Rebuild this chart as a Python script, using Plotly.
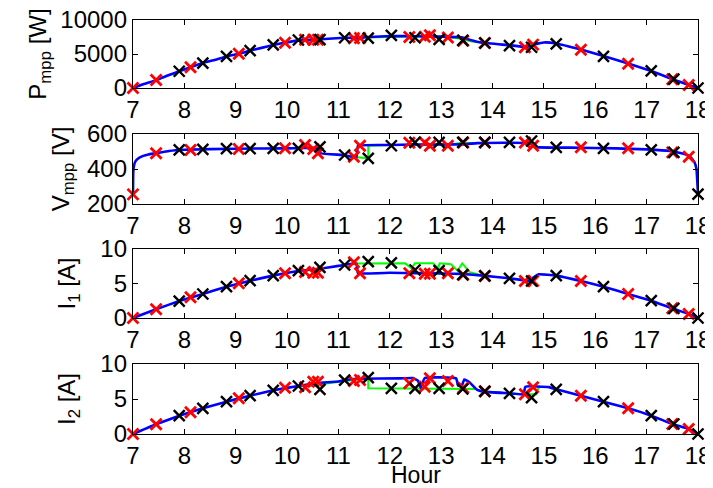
import plotly.graph_objects as go

# ---------------- data ----------------
# Blue line (system A)
blue_h_P = [7.0, 7.2, 7.45, 7.7, 7.9, 8.12, 8.36, 8.6, 8.82, 9.06, 9.28, 9.5, 9.73, 9.96, 10.22, 10.5, 10.8, 11.12, 11.4, 11.6, 12.03, 12.5, 13.0, 13.4, 13.55, 13.8, 14.33, 14.7, 14.8, 15.0, 15.24, 15.72, 16.16, 16.64, 17.09, 17.5, 17.82, 18.0]
blue_P = [0, 550, 1160, 1900, 2460, 3040, 3670, 4150, 4640, 5030, 5500, 5900, 6330, 6670, 7000, 7100, 7250, 7390, 7400, 7500, 7650, 7600, 7550, 7450, 7100, 6650, 6300, 6000, 6400, 6700, 6550, 5650, 4700, 3600, 2500, 1300, 450, 0]

green_h_P = [11.4, 12.5, 13.0, 13.3, 13.45, 13.6, 13.8]
green_P = [7400, 7600, 7550, 7350, 7100, 6850, 6650]

blue_h_V = [7.0, 7.005, 7.02, 7.05, 7.1, 7.2, 7.3, 7.45, 7.7, 8.0, 9.0, 10.0, 10.3, 10.6, 10.65, 11.1, 11.35, 11.38, 12.0, 12.5, 13.0, 13.5, 13.7, 14.7, 14.85, 15.5, 16.4, 17.0, 17.45, 17.7, 17.85, 17.93, 17.97, 18.0]
blue_V = [255, 380, 420, 445, 460, 475, 483, 490, 503, 510, 516, 518, 520, 520, 490, 480, 467, 533, 537, 540, 540, 542, 548, 548, 525, 522, 518, 512, 503, 488, 470, 440, 400, 257]

green_h_V = [11.35, 11.58, 11.58, 12.0, 13.2, 13.35, 13.6, 13.7]
green_V = [467, 461, 533, 537, 540, 548, 548, 548]

blue_h_I1 = [7.0, 7.45, 7.9, 8.36, 8.82, 9.28, 9.73, 10.22, 10.6, 11.0, 11.35, 11.38, 12.0, 12.5, 13.0, 13.4, 13.82, 14.33, 14.72, 14.8, 14.9, 15.24, 15.72, 16.16, 16.64, 17.09, 17.5, 17.82, 18.0]
blue_I1 = [0, 1.26, 2.46, 3.48, 4.54, 5.41, 6.14, 6.8, 7.1, 7.55, 7.9, 6.5, 6.55, 6.5, 6.45, 6.4, 6.14, 5.75, 5.4, 5.9, 6.33, 6.14, 5.36, 4.54, 3.48, 2.51, 1.4, 0.58, 0]

green_h_I1 = [11.35, 11.6, 12.3, 12.42, 12.49, 12.84, 12.94, 12.97, 13.19, 13.32, 13.41, 13.56, 13.75, 13.82]
green_I1 = [7.9, 7.92, 7.92, 7.2, 7.92, 7.92, 7.2, 7.92, 7.8, 6.86, 7.92, 6.62, 6.33, 6.14]

blue_h_I2 = [7.0, 7.45, 7.9, 8.36, 8.82, 9.28, 9.73, 10.22, 10.4, 10.6, 11.0, 11.12, 11.4, 12.2, 12.45, 12.55, 12.6, 12.68, 13.29, 13.33, 13.4, 13.45, 13.55, 13.7, 13.82, 14.33, 14.6, 14.64, 15.1, 15.24, 15.72, 16.16, 16.64, 17.09, 17.5, 17.82, 18.0]
blue_I2 = [0, 1.39, 2.62, 3.67, 4.62, 5.48, 6.24, 6.86, 7.05, 7.3, 7.5, 7.71, 7.9, 7.95, 8.0, 7.6, 6.6, 8.0, 7.95, 6.9, 6.9, 7.8, 7.4, 6.3, 6.05, 5.81, 5.67, 6.76, 6.7, 6.38, 5.48, 4.62, 3.67, 2.62, 1.43, 0.71, 0]

green_h_I2 = [10.35, 10.5, 10.65, 11.4, 11.58, 11.58, 13.68, 13.82, 14.33, 14.6, 14.85, 14.9]
green_I2 = [6.9, 6.85, 7.1, 7.9, 8.0, 6.52, 6.43, 6.05, 5.81, 5.67, 5.67, 6.7]

# Red markers
red_h = [7.0, 7.45, 8.12, 9.06, 9.96, 10.35, 10.51, 10.6, 11.3, 11.42, 12.38, 12.68, 12.78, 13.13, 13.43, 13.85, 14.63, 14.79, 15.72, 16.64, 17.5, 17.82]
red_P = [0, 1160, 3040, 5030, 6670, 7100, 7100, 7100, 7300, 7350, 7500, 7550, 7760, 7440, 6960, 6620, 6000, 6380, 5610, 3580, 1300, 430]
red_V = [255, 490, 509, 514, 518, 537, 514, 490, 470, 533, 550, 552, 533, 533, 552, 552, 552, 533, 524, 518, 495, 470]
red_I1 = [0, 1.26, 3.0, 5.02, 6.47, 6.67, 6.57, 6.57, 8.07, 6.47, 6.47, 6.42, 6.42, 6.47, 6.28, 6.1, 5.36, 5.36, 5.36, 3.48, 1.4, 0.58]
red_I2 = [0, 1.39, 3.1, 5.1, 6.62, 6.67, 7.48, 7.48, 7.57, 7.71, 7.24, 6.76, 7.95, 7.57, 6.62, 6.1, 5.67, 6.67, 5.48, 3.67, 1.43, 0.71]

# Black markers
black_h = [7.9, 8.36, 8.82, 9.28, 9.73, 10.22, 10.64, 11.12, 11.58, 12.03, 12.49, 12.96, 13.42, 13.85, 14.33, 14.76, 15.24, 16.16, 17.09, 17.53, 18.0]
black_P = [2460, 3670, 4640, 5500, 6330, 7060, 7100, 7390, 7340, 7730, 7390, 7150, 7000, 6620, 6230, 5990, 6480, 4640, 2510, 1300, 0]
black_V = [509, 512, 516, 516, 518, 518, 527, 480, 461, 533, 552, 552, 552, 552, 552, 560, 524, 518, 509, 495, 257]
black_I1 = [2.46, 3.48, 4.54, 5.41, 6.14, 6.86, 7.34, 7.68, 8.16, 8.0, 6.96, 6.86, 6.3, 6.1, 5.75, 5.36, 6.14, 4.54, 2.51, 1.4, 0]
black_I2 = [2.62, 3.67, 4.62, 5.48, 6.24, 6.86, 6.38, 7.71, 8.05, 6.52, 6.52, 6.52, 6.43, 6.1, 5.81, 5.19, 6.38, 4.62, 2.62, 1.43, 0]

x_ticks = list(range(7, 19))
y_titles = ["P<sub>mpp</sub> [W]", "V<sub>mpp</sub> [V]", "I<sub>1</sub> [A]", "I<sub>2</sub> [A]"]
y_ranges = [[0, 10000], [200, 600], [0, 10], [0, 10]]
y_tickvals = [[0, 5000, 10000], [200, 400, 600], [0, 5, 10], [0, 5, 10]]
x_title = "Hour"

# ---------------- figure ----------------
# The page has an 8px body margin, so the figure's origin sits at (8, 8) in the window.
OFF = 8
W, H = 705, 480
x_dom = [(133 - OFF) / W, (698 - OFF) / W]
y_px = [(20, 88), (134, 204), (249, 318), (364, 434)]
standoffs = [6, 10, 17, 17]

panels = [
    (blue_h_P, blue_P, green_h_P, green_P, red_P, black_P),
    (blue_h_V, blue_V, green_h_V, green_V, red_V, black_V),
    (blue_h_I1, blue_I1, green_h_I1, green_I1, red_I1, black_I1),
    (blue_h_I2, blue_I2, green_h_I2, green_I2, red_I2, black_I2),
]

fig = go.Figure()
font = "Liberation Sans, Arial, sans-serif"
mk = dict(symbol="x-thin", size=11)

for i, (bh, bv, gh, gv, rv, kv) in enumerate(panels):
    n = "" if i == 0 else str(i + 1)
    xa, ya = "x" + n, "y" + n
    fig.add_trace(go.Scatter(x=gh, y=gv, mode="lines", line=dict(color="#00ff00", width=2),
                             xaxis=xa, yaxis=ya, showlegend=False))
    fig.add_trace(go.Scatter(x=bh, y=bv, mode="lines", line=dict(color="#0000ff", width=2.6, shape="spline", smoothing=0.3),
                             xaxis=xa, yaxis=ya, showlegend=False))
    fig.add_trace(go.Scatter(x=red_h, y=rv, mode="markers", cliponaxis=False,
                             marker=dict(mk, color="#ff0000", line=dict(width=2.8, color="#ff0000")),
                             xaxis=xa, yaxis=ya, showlegend=False))
    fig.add_trace(go.Scatter(x=black_h, y=kv, mode="markers", cliponaxis=False,
                             marker=dict(mk, color="#000000", line=dict(width=2.4, color="#000000")),
                             xaxis=xa, yaxis=ya, showlegend=False))
    top, bot = y_px[i]
    axis_common = dict(showline=True, linecolor="black", linewidth=1.3, mirror="ticks",
                       ticks="inside", ticklen=5, tickcolor="black", tickwidth=1,
                       showgrid=False, zeroline=False, automargin=False,
                       ticklabeloverflow="allow",
                       tickfont=dict(family=font, size=24, color="black"))
    fig.layout["xaxis" + n] = dict(axis_common, domain=x_dom, range=[7, 18], anchor=ya,
                                   tickvals=x_ticks, ticktext=[str(t) for t in x_ticks])
    fig.layout["yaxis" + n] = dict(axis_common,
                                   domain=[1 - (bot - OFF) / H, 1 - (top - OFF) / H], range=y_ranges[i],
                                   anchor=xa, tickvals=y_tickvals[i],
                                   ticktext=[str(v) for v in y_tickvals[i]],
                                   title=dict(text=y_titles[i], font=dict(family=font, size=24, color="black"),
                                              standoff=standoffs[i]))

fig.add_annotation(text=x_title, xref="paper", yref="paper",
                   x=(x_dom[0] + x_dom[1]) / 2, y=1 - (475 - OFF) / H, xanchor="center", yanchor="middle",
                   showarrow=False, font=dict(family=font, size=23, color="black"))

fig.update_layout(width=W, height=H, margin=dict(l=0, r=0, t=0, b=0, autoexpand=False),
                  paper_bgcolor="white", plot_bgcolor="white")

fig.write_html("out.html")
